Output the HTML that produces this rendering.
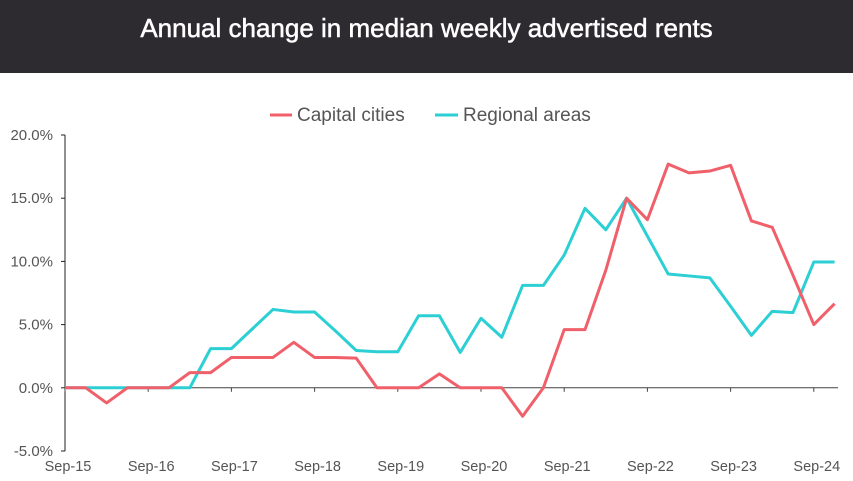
<!DOCTYPE html>
<html><head><meta charset="utf-8"><style>
html,body{margin:0;padding:0;background:#fff;width:853px;height:481px;overflow:hidden;font-family:"Liberation Sans",sans-serif;}
#hdr{position:absolute;left:0;top:0;width:853px;height:73px;background:#2e2b30;color:#fff;font-size:26px;text-align:center;line-height:56px;-webkit-text-stroke:0.5px #fff;}
svg{position:absolute;left:0;top:0;}
</style></head><body>
<div id="hdr">Annual change in median weekly advertised rents</div>
<svg id="c" width="853" height="481"></svg>
<script>
const categories=["Sep-15","Dec-15","Mar-16","Jun-16","Sep-16","Dec-16","Mar-17","Jun-17","Sep-17","Dec-17","Mar-18","Jun-18","Sep-18","Dec-18","Mar-19","Jun-19","Sep-19","Dec-19","Mar-20","Jun-20","Sep-20","Dec-20","Mar-21","Jun-21","Sep-21","Dec-21","Mar-22","Jun-22","Sep-22","Dec-22","Mar-23","Jun-23","Sep-23","Dec-23","Mar-24","Jun-24","Sep-24","Dec-24"];
const capitalCities=[0,0,-1.2,0,0,0,1.2,1.2,2.4,2.4,2.4,3.6,2.4,2.4,2.35,0,0,0,1.1,0,0,0,-2.25,0,4.6,4.6,9.3,15.0,13.3,17.7,17.0,17.15,17.6,13.2,12.7,8.9,5.0,6.65];
const regionalAreas=[0,0,0,0,0,0,0,3.1,3.1,4.65,6.2,6.0,6.0,4.5,2.95,2.85,2.85,5.7,5.7,2.8,5.5,4.0,8.1,8.1,10.5,14.2,12.5,15.0,12.0,9.0,8.85,8.7,6.45,4.15,6.05,5.95,9.95,9.95];
const yTicks=[20,15,10,5,0,-5];
const xTickLabels=["Sep-15","Sep-16","Sep-17","Sep-18","Sep-19","Sep-20","Sep-21","Sep-22","Sep-23","Sep-24"];

const NS="http://www.w3.org/2000/svg";
const svg=document.getElementById('c');
const x0=65,step=20.8,yTop=135,yBot=451,vMax=20,vMin=-5;
function xs(i){return x0+i*step;}
function ys(v){return yTop+(vMax-v)/(vMax-vMin)*(yBot-yTop);}
function mk(t,a,txt){const e=document.createElementNS(NS,t);for(const k in a)e.setAttribute(k,a[k]);if(txt!==undefined)e.textContent=txt;svg.appendChild(e);return e;}

let ya=mk('line',{x1:x0,y1:yTop,x2:x0,y2:yBot,stroke:'#222','stroke-width':1});


yTicks.forEach(v=>{
  const tk=mk('line',{x1:x0-4,y1:ys(v),x2:x0,y2:ys(v),stroke:'#222','stroke-width':1});
  
  
  const t=mk('text',{x:53,y:ys(v)+5,'text-anchor':'end','font-size':15,fill:'#555'},v.toFixed(1)+'%');
  
  
});
let xa=mk('line',{x1:x0,y1:ys(0),x2:838,y2:ys(0),stroke:'#444','stroke-width':1});


xTickLabels.forEach(lab=>{
  const i=categories.indexOf(lab);
  const tk=mk('line',{x1:xs(i),y1:ys(0),x2:xs(i),y2:ys(0)+4,stroke:'#444','stroke-width':1});
  
  
  const t=mk('text',{x:xs(i)+3,y:471,'text-anchor':'middle','font-size':14.5,fill:'#555'},lab);
  
  
});
function series(vals,col,name){
  const p=mk('polyline',{points:vals.map((v,i)=>xs(i)+','+ys(v)).join(' '),fill:'none',stroke:col,'stroke-width':3,'stroke-linejoin':'round'});
  
  
}
series(regionalAreas,'#2ccfd3','regional-areas-line');
series(capitalCities,'#f0606a','capital-cities-line');

let l1=mk('line',{x1:270,y1:115,x2:292,y2:115,stroke:'#f0606a','stroke-width':3});


let t1=mk('text',{x:297,y:121,'font-size':19,fill:'#555'},'Capital cities');


let l2=mk('line',{x1:435,y1:115,x2:458,y2:115,stroke:'#2ccfd3','stroke-width':3});


let t2=mk('text',{x:463,y:121,'font-size':19,fill:'#555'},'Regional areas');


</script>
</body></html>
